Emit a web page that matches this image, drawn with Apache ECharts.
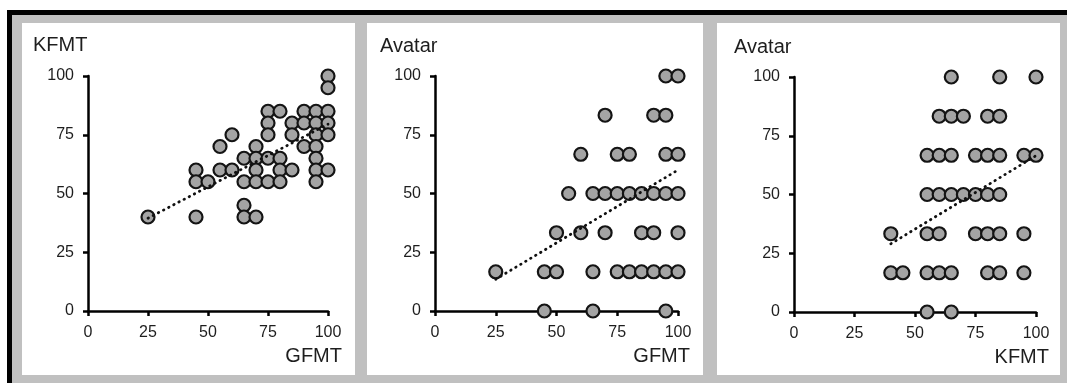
<!DOCTYPE html>
<html>
<head>
<meta charset="utf-8">
<script src="https://cdn.jsdelivr.net/npm/echarts@6/dist/echarts.min.js"></script>
<style>
  html, body { margin: 0; padding: 0; background: #fff; }
  #chart { width: 1067px; height: 383px; }
</style>
</head>
<body>
<div id="chart"></div>
<script>
// axis ticks shared by all three panels
let ticks = [0, 25, 50, 75, 100];

// panel 1: GFMT (x) vs KFMT (y)
let gfmtA = [100, 100, 75, 80, 90, 95, 100, 75, 85, 90, 95, 100, 60, 75, 85, 95, 100,
  55, 70, 90, 95, 65, 70, 75, 80, 95, 45, 55, 60, 70, 80, 85, 95, 100,
  45, 50, 65, 70, 75, 80, 95, 65, 25, 45, 65, 70];
let kfmtA = [100, 95, 85, 85, 85, 85, 85, 80, 80, 80, 80, 80, 75, 75, 75, 75, 75,
  70, 70, 70, 70, 65, 65, 65, 65, 65, 60, 60, 60, 60, 60, 60, 60, 60,
  55, 55, 55, 55, 55, 55, 55, 45, 40, 40, 40, 40];
let trendA = [[25, 39.5], [100, 79.5]];

// panel 2: GFMT (x) vs Avatar (y)
let gfmtB = [95, 100, 70, 90, 95, 60, 75, 80, 95, 100,
  55, 65, 70, 75, 80, 85, 90, 95, 100, 50, 60, 70, 85, 90, 100,
  25, 45, 50, 65, 75, 80, 85, 90, 95, 100, 45, 65, 95];
let avatarB = [100, 100, 83.3, 83.3, 83.3, 66.7, 66.7, 66.7, 66.7, 66.7,
  50, 50, 50, 50, 50, 50, 50, 50, 50, 33.3, 33.3, 33.3, 33.3, 33.3, 33.3,
  16.7, 16.7, 16.7, 16.7, 16.7, 16.7, 16.7, 16.7, 16.7, 16.7, 0, 0, 0];
let trendB = [[25, 13.5], [100, 60]];

// panel 3: KFMT (x) vs Avatar (y)
let kfmtC = [65, 85, 100, 60, 65, 70, 80, 85, 55, 60, 65, 75, 80, 85, 95, 100,
  55, 60, 65, 70, 75, 80, 85, 40, 55, 60, 75, 80, 85, 95,
  40, 45, 55, 60, 65, 80, 85, 95, 55, 65];
let avatarC = [100, 100, 100, 83.3, 83.3, 83.3, 83.3, 83.3, 66.7, 66.7, 66.7, 66.7, 66.7, 66.7, 66.7, 66.7,
  50, 50, 50, 50, 50, 50, 50, 33.3, 33.3, 33.3, 33.3, 33.3, 33.3, 33.3,
  16.7, 16.7, 16.7, 16.7, 16.7, 16.7, 16.7, 16.7, 0, 0];
let trendC = [[40, 29], [100, 66.5]];

let font = "Liberation Sans, Arial, sans-serif";

function zip(xs, ys) {
  return xs.map((x, i) => [x, ys[i]]);
}

function axis(idx) {
  return {
    type: "value",
    gridIndex: idx,
    min: ticks[0],
    max: ticks[ticks.length - 1],
    interval: 25,
    splitLine: { show: false },
    axisLine: { show: true, onZero: false, lineStyle: { color: "#000", width: 2.5 } },
    axisTick: { show: true, length: 5, lineStyle: { color: "#000", width: 2.5 } },
    axisLabel: { color: "#1e1e1e", fontSize: 16, fontFamily: font, margin: 14 }
  };
}

function dots(idx, data) {
  return {
    type: "scatter",
    xAxisIndex: idx,
    yAxisIndex: idx,
    data: data,
    clip: false,
    symbolSize: 13,
    itemStyle: { color: "#a4a4a4", borderColor: "#141414", borderWidth: 2.2, opacity: 1 },
    z: 3
  };
}

function trend(idx, data) {
  return {
    type: "line",
    xAxisIndex: idx,
    yAxisIndex: idx,
    data: data,
    symbol: "none",
    silent: true,
    lineStyle: { color: "#111", width: 2.8, type: [0.5, 5.3], cap: "round" },
    z: 4
  };
}

function label(text, pos) {
  return Object.assign({
    text: text,
    padding: 0,
    textStyle: { color: "#1e1e1e", fontSize: 20, fontWeight: "normal", fontFamily: font }
  }, pos);
}

let myChart = echarts.init(document.getElementById("chart"));

let option = {
  animation: false,
  graphic: [
    { type: "rect", shape: { x: 7, y: 10, width: 1080, height: 400 }, style: { fill: "#000" }, z: -10 },
    { type: "rect", shape: { x: 12, y: 15, width: 1080, height: 400 }, style: { fill: "#c0c0c0" }, z: -9 },
    { type: "rect", shape: { x: 22, y: 23, width: 333, height: 352 }, style: { fill: "#fff" }, z: -8 },
    { type: "rect", shape: { x: 367, y: 23, width: 336, height: 352 }, style: { fill: "#fff" }, z: -8 },
    { type: "rect", shape: { x: 717, y: 23, width: 343, height: 352 }, style: { fill: "#fff" }, z: -8 }
  ],
  title: [
    label("KFMT", { left: 33, top: 35 }),
    label("GFMT", { right: 725, top: 346 }),
    label("Avatar", { left: 380, top: 36 }),
    label("GFMT", { right: 377, top: 346 }),
    label("Avatar", { left: 734, top: 37 }),
    label("KFMT", { right: 18, top: 347 })
  ],
  grid: [
    { left: 88, top: 76, width: 240, height: 235 },
    { left: 435, top: 76, width: 243, height: 235 },
    { left: 794, top: 77, width: 242, height: 235 }
  ],
  xAxis: [axis(0), axis(1), axis(2)],
  yAxis: [axis(0), axis(1), axis(2)],
  series: [
    dots(0, zip(gfmtA, kfmtA)),
    trend(0, trendA),
    dots(1, zip(gfmtB, avatarB)),
    trend(1, trendB),
    dots(2, zip(kfmtC, avatarC)),
    trend(2, trendC)
  ]
};
myChart.setOption(option);
</script>
</body>
</html>
